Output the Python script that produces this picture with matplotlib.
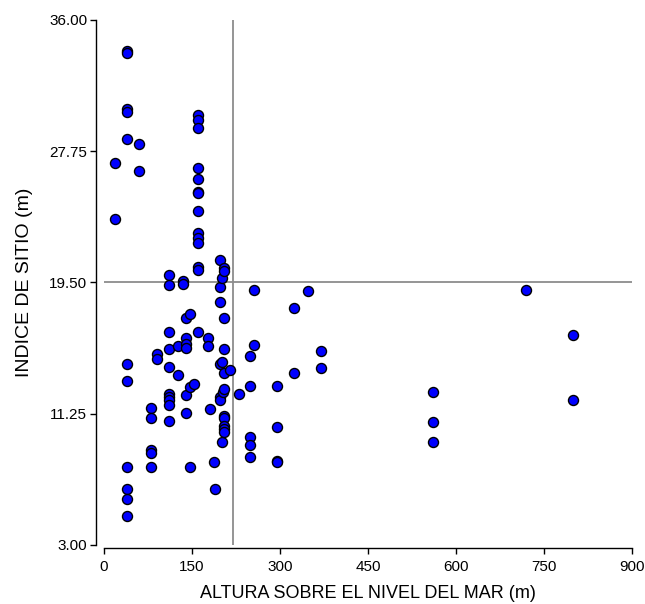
import matplotlib
matplotlib.use("Agg")
import matplotlib.pyplot as plt
import numpy as np

plt.rcParams['font.family'] = ['Liberation Sans', 'DejaVu Sans']

# altura sobre el nivel del mar (m) / indice de sitio (m)
altura = [18, 18,
          40, 40, 40, 40, 40, 40, 40, 40, 40, 40, 40,
          59, 59,
          80, 80, 80, 80, 80,
          91, 91,
          110, 110, 110, 110, 110, 110, 110, 110, 110, 110,
          126, 126,
          134, 134,
          140, 140, 140, 140, 140, 140,
          147, 147, 147,
          153,
          160, 160, 160, 160, 160, 160, 160, 160, 160, 160, 160, 160, 160, 160,
          177, 177, 180, 188, 190,
          198, 198, 198, 198, 198, 198,
          201, 201, 201, 203,
          204, 204, 204, 204, 204, 204, 204, 204, 204, 204, 204,
          215, 230,
          249, 249, 249, 249, 249,
          255, 255,
          295, 295, 295, 295,
          324, 324, 348, 370, 370,
          560, 560, 560,
          720, 800, 800]
indice = [27.0, 23.5,
          34.06, 33.9, 30.4, 30.2, 28.5, 14.4, 13.3, 7.9, 6.54, 5.9, 4.85,
          28.2, 26.5,
          11.6, 11.0, 9.0, 8.8, 7.9,
          15.0, 14.7,
          19.95, 19.34, 16.4, 15.3, 14.2, 12.5, 12.3, 12.1, 11.8, 10.8,
          15.5, 13.7,
          19.6, 19.4,
          17.28, 16.0, 15.64, 15.4, 12.4, 11.3,
          17.5, 12.9, 7.9,
          13.1,
          30.03, 29.7, 29.2, 26.7, 26.0, 25.2, 25.1, 24.0, 22.6, 22.3, 22.0, 20.5, 20.3, 16.4,
          16.0, 15.5, 11.54, 8.24, 6.54,
          20.9, 19.2, 18.27, 14.4, 12.3, 12.1,
          19.8, 14.5, 9.5, 12.6,
          20.4, 20.2, 17.28, 15.3, 13.8, 12.8, 11.08, 10.97, 10.5, 10.3, 10.1,
          14.0, 12.5,
          14.9, 13.0, 9.8, 9.3, 8.5,
          19.05, 15.6,
          13.0, 10.4, 8.3, 8.2,
          17.9, 13.8, 18.95, 15.2, 14.1,
          12.6, 10.7, 9.5,
          19.05, 16.2, 12.1]

x_ticks = [0, 150, 300, 450, 600, 750, 900]
y_ticks = [3.00, 11.25, 19.50, 27.75, 36.00]
ref_x = 220
ref_y = 19.5

fig = plt.figure(figsize=(6.45, 6.04), dpi=100)
ax = fig.add_axes([0.1612, 0.0977, 0.8186, 0.8692])

ax.axvline(ref_x, color='#8c8c8c', lw=1.3, zorder=1)
ax.axhline(ref_y, color='#8c8c8c', lw=1.3, zorder=1)
ax.scatter(altura, indice, s=52, c='#0000ff', edgecolors='black', linewidths=1.0, zorder=3)

ax.set_xlim(0, 900)
ax.set_ylim(3, 36)
ax.set_xticks(x_ticks)
ax.set_yticks(y_ticks)
ax.set_yticklabels(['%.2f' % v for v in y_ticks])

ax.spines['top'].set_visible(False)
ax.spines['right'].set_visible(False)
ax.spines['left'].set_position(('outward', 6))
ax.spines['bottom'].set_position(('outward', 2.5))
for s in ['left', 'bottom']:
    ax.spines[s].set_linewidth(1.0)
ax.tick_params(axis='both', direction='out', length=4, width=1.0, labelsize=11)
ax.tick_params(axis='x', pad=4)
ax.tick_params(axis='y', pad=2)

ax.set_xlabel('ALTURA SOBRE EL NIVEL DEL MAR (m)', fontsize=13, labelpad=8)
ax.set_ylabel('INDICE DE SITIO (m)', fontsize=14, labelpad=12)

plt.savefig('out.png', dpi=100)
